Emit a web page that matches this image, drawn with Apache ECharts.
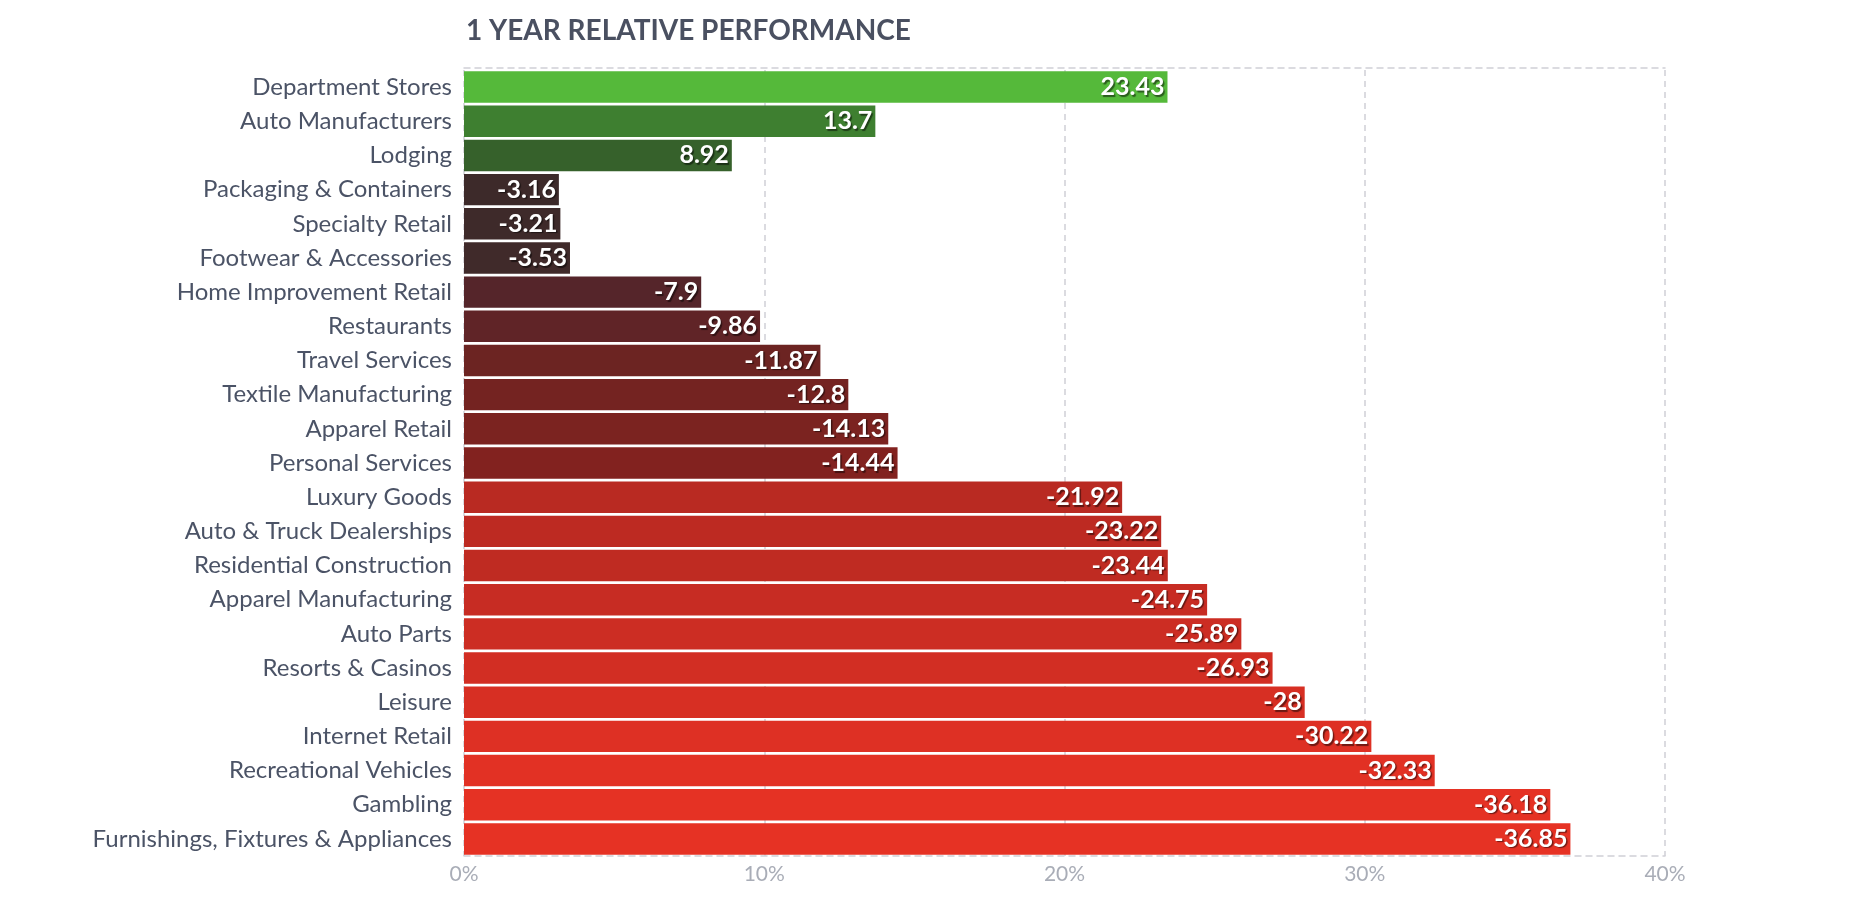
<!DOCTYPE html>
<html>
<head>
<meta charset="utf-8">
<script src="https://cdn.jsdelivr.net/npm/echarts@6/dist/echarts.min.js"></script>
<style>
html,body{margin:0;padding:0;background:#fff;}
#chart{width:1862px;height:918px;}
</style>
</head>
<body>
<div id="chart"></div>
<script>
const categories = [
  "Department Stores","Auto Manufacturers","Lodging","Packaging & Containers","Specialty Retail",
  "Footwear & Accessories","Home Improvement Retail","Restaurants","Travel Services","Textile Manufacturing",
  "Apparel Retail","Personal Services","Luxury Goods","Auto & Truck Dealerships","Residential Construction",
  "Apparel Manufacturing","Auto Parts","Resorts & Casinos","Leisure","Internet Retail",
  "Recreational Vehicles","Gambling","Furnishings, Fixtures & Appliances"
];
const values = [23.43,13.7,8.92,-3.16,-3.21,-3.53,-7.9,-9.86,-11.87,-12.8,-14.13,-14.44,-21.92,-23.22,-23.44,-24.75,-25.89,-26.93,-28,-30.22,-32.33,-36.18,-36.85];
const xTicks = [0,10,20,30,40];

const barColors = ["#55b93a","#3e7f30","#36612b","#3d2a2a","#3e2a2a","#402a2a","#55252a","#602427","#6c2422","#742321","#7b2320","#82221f",
  "#b92a22","#bd2a22","#bf2b22","#c72c23","#cc2d23","#d22e23","#d72f23","#de3024","#e23124","#e53224","#e63224"];

const chart = echarts.init(document.getElementById('chart'));
const dashColor = '#cfd0d6';
chart.setOption({
  animation:false,
  title:{
    text:'1 YEAR RELATIVE PERFORMANCE',
    left:466, top:17, padding:0,
    textStyle:{fontFamily:'Lato',fontWeight:'bold',fontSize:28,color:'#4a5061'}
  },
  grid:{left:464,right:197,top:70,bottom:62},
  xAxis:[{
    type:'value',min:xTicks[0],max:xTicks[xTicks.length-1],interval:10,position:'bottom',
    axisLine:{show:true,lineStyle:{color:dashColor,type:[6,5],width:1.5}},
    axisTick:{show:false},
    axisLabel:{formatter:'{value}%',color:'#a9adb7',fontFamily:'Lato',fontSize:21,margin:8},
    splitLine:{show:true,lineStyle:{color:dashColor,type:[6,5],width:1.5}}
  },{
    type:'value',min:xTicks[0],max:xTicks[xTicks.length-1],interval:10,position:'top',offset:2,
    axisLine:{show:true,lineStyle:{color:dashColor,type:[6,5],width:1.5}},
    axisTick:{show:false},axisLabel:{show:false},splitLine:{show:false}
  }],
  yAxis:{
    type:'category',data:categories,inverse:true,
    axisLine:{show:false},axisTick:{show:false},
    axisLabel:{color:'#4b5366',fontFamily:'Lato',fontSize:24,margin:12}
  },
  series:[{
    type:'bar',
    data:values.map((v,i)=>({value:Math.abs(v),raw:v,itemStyle:{color:barColors[i]}})),
    barCategoryGap:'8%',
    label:{
      show:true,position:'insideRight',distance:3,
      formatter:p=>String(p.data.raw),
      color:'#fff',fontFamily:'Lato',fontWeight:'bold',fontSize:25,
      textShadowColor:'rgba(0,0,0,0.5)',textShadowBlur:1,textShadowOffsetX:1.5,textShadowOffsetY:1.5
    }
  }]
});
</script>
</body>
</html>
